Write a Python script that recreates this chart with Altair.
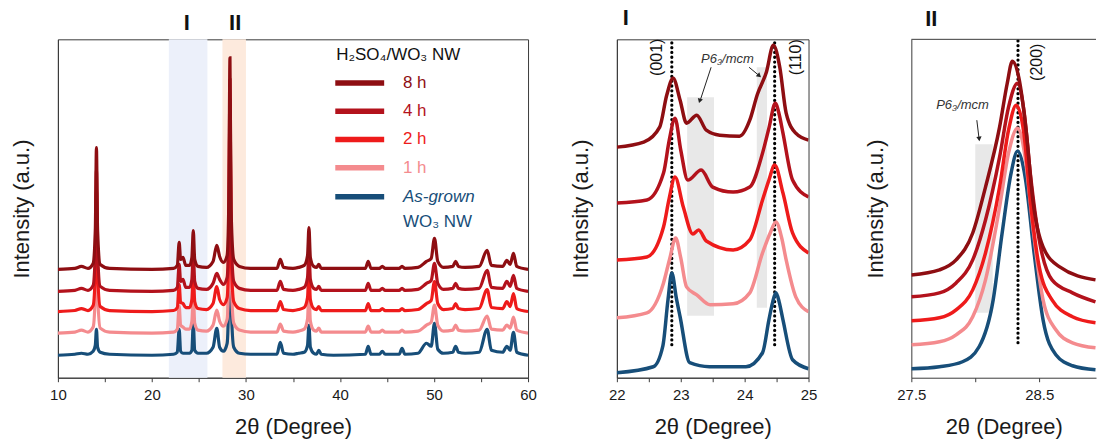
import altair as alt
import pandas as pd

FONT = "Liberation Sans"
SERIES = ["As-grown", "1 h", "2 h", "4 h", "8 h"]  # drawing order (bottom first)
COLORS = {"8 h": "#8E0E12", "4 h": "#B3121C", "2 h": "#EE1B1B", "1 h": "#F48B8E", "As-grown": "#174E79"}

# ---------------- Panel 1 (full pattern) ----------------
X1 = [10.0, 11.8, 12.5, 13.2, 13.75, 13.98, 14.1, 14.22, 14.5, 15.5,
      20.0, 22.3, 22.7, 22.9, 23.05, 23.3, 23.6, 24.0, 24.25, 24.4,
      24.55, 24.9, 25.8, 26.5, 26.9, 27.2, 27.6, 28.0, 28.18, 28.3,
      28.42, 28.7, 29.3, 30.5, 33.3, 33.65, 34.0, 35.0, 35.6, 36.2,
      36.55, 36.7, 36.85, 37.2, 37.5, 37.75, 38.0, 39.3, 42.7, 43.0,
      43.3, 44.2, 44.5, 44.8, 46.3, 46.6, 46.9, 48.3, 49.2, 49.7,
      50.05, 50.4, 51.0, 52.0, 52.3, 52.6, 53.3, 54.8, 55.65, 56.1,
      57.3, 57.75, 58.1, 58.45, 58.8, 60.0]
OFFSET1 = {"8 h": 108.5, "4 h": 86.5, "2 h": 66.3, "1 h": 44.7, "As-grown": 22.5}
PROFILE_8H = [0, 1, 3, 1, 6, 40, 122, 40, 5, 1,
              0, 1, 4, 27, 10, 12, 4, 4, 12, 39,
              10, 3, 2, 8, 24, 13, 7, 14, 70, 212,
              60, 10, 3, 1, 1, 10, 2, 1, 2, 4,
              14, 42, 12, 3, 2, 5, 1, 1, 1, 8,
              1, 1, 3, 1, 1, 3, 1, 2, 8, 11,
              31, 8, 2, 3, 8, 3, 2, 3, 19, 4,
              3, 9, 5, 16, 3, 0]
PROFILE_4H = [0, 1, 3, 1, 6, 40, 122, 40, 5, 1,
              0, 1, 4, 27, 10, 12, 4, 4, 12, 39,
              10, 3, 2, 8, 18, 12, 7, 14, 70, 212,
              60, 10, 3, 1, 1, 10, 2, 1, 2, 4,
              14, 42, 12, 3, 2, 5, 1, 1, 1, 8,
              1, 1, 3, 1, 1, 3, 1, 2, 8, 11,
              28, 8, 2, 3, 8, 3, 2, 3, 21, 4,
              3, 10, 5, 16, 3, 0]
PROFILE_2H = [0, 1, 3, 1, 6, 40, 122, 40, 5, 1,
              0, 1, 4, 27, 9, 8, 4, 4, 12, 39,
              10, 3, 2, 8, 25, 12, 7, 14, 70, 212,
              60, 10, 3, 1, 1, 10, 2, 1, 2, 4,
              14, 42, 12, 3, 2, 5, 1, 1, 1, 8,
              1, 1, 3, 1, 1, 3, 1, 2, 8, 11,
              30, 8, 2, 3, 8, 3, 2, 3, 22, 4,
              3, 10, 5, 18, 3, 0]
PROFILE_1H = [0, 1, 3, 1, 6, 40, 122, 40, 5, 1,
              0, 1, 4, 27, 8, 6, 4, 4, 12, 39,
              10, 3, 2, 8, 23, 12, 7, 14, 70, 212,
              60, 10, 3, 1, 1, 9, 2, 1, 2, 4,
              14, 42, 12, 3, 2, 5, 1, 1, 1, 7,
              1, 1, 3, 1, 1, 3, 1, 2, 8, 11,
              28, 8, 2, 3, 8, 3, 2, 3, 17, 4,
              3, 8, 5, 16, 3, 0]
PROFILE_AG = [0, 1, 2, 1, 4, 10, 26, 8, 3, 1,
              0, 1, 3, 26, 4, 2, 2, 2, 5, 32,
              5, 2, 2, 8, 27, 8, 4, 12, 70, 212,
              55, 8, 2, 1, 1, 13, 2, 1, 2, 3,
              10, 30, 8, 2, 1, 5, 1, 0, 1, 9,
              1, 1, 4, 1, 1, 7, 1, 2, 12, 9,
              32, 6, 2, 3, 9, 3, 2, 3, 26, 5,
              3, 9, 5, 23, 3, 0]
PROFILES1 = {"8 h": PROFILE_8H, "4 h": PROFILE_4H, "2 h": PROFILE_2H,
             "1 h": PROFILE_1H, "As-grown": PROFILE_AG}

BAND_X1 = [21.8, 27.5]
BAND_X2 = [25.9, 30.0]
BAND_COLORS = ["#ECF0FA", "#FDEADD"]

# ---------------- Panel I (22-25) ----------------
P2 = {
    "8 h": ([22.0, 22.42, 22.67, 22.78, 22.88, 22.99, 23.09, 23.25, 23.4, 23.61, 23.92, 24.08, 24.2, 24.34, 24.45, 24.55, 24.65, 24.8, 25.0],
            [231, 236, 251, 283, 300, 278, 255, 263, 248, 243, 242, 258, 284, 306, 333, 311, 265, 245, 238]),
    "4 h": ([22.0, 22.47, 22.73, 22.82, 22.91, 23.0, 23.11, 23.32, 23.5, 23.82, 24.08, 24.28, 24.38, 24.48, 24.54, 24.6, 24.75, 25.0],
            [175, 178, 205, 238, 260, 228, 198, 208, 191, 186, 191, 225, 250, 275, 264, 245, 198, 181]),
    "2 h": ([22.0, 22.47, 22.73, 22.82, 22.91, 23.04, 23.19, 23.28, 23.4, 23.82, 24.08, 24.28, 24.38, 24.47, 24.6, 24.75, 25.0],
            [118, 121, 151, 180, 201, 171, 144, 148, 137, 128, 138, 178, 198, 213, 185, 145, 125]),
    "1 h": ([22.0, 22.47, 22.73, 22.83, 22.92, 23.0, 23.09, 23.25, 23.46, 23.82, 24.08, 24.28, 24.4, 24.49, 24.58, 24.65, 24.8, 25.0],
            [60, 65, 95, 120, 140, 120, 91, 83, 73, 74, 85, 125, 145, 156, 140, 118, 81, 66]),
    "As-grown": ([22.0, 22.57, 22.72, 22.8, 22.86, 22.93, 22.99, 23.14, 23.45, 24.02, 24.28, 24.38, 24.44, 24.49, 24.54, 24.6, 24.75, 25.0],
                 [5, 11, 32, 78, 105, 80, 61, 15, 11, 11, 25, 58, 76, 85, 76, 58, 18, 9]),
}

# ---------------- Panel II (27.5-29) ----------------
P3 = {
    "8 h": ([27.5, 27.72, 27.85, 27.98, 28.08, 28.19, 28.25, 28.29, 28.34, 28.4, 28.45, 28.53, 28.66, 28.94],
            [103, 108, 118, 145, 191, 251, 295, 317, 301, 245, 178, 131, 111, 98]),
    "4 h": ([27.5, 27.72, 27.85, 27.98, 28.08, 28.19, 28.26, 28.33, 28.38, 28.43, 28.5, 28.6, 28.76, 28.94],
            [81, 85, 95, 118, 158, 221, 271, 295, 268, 205, 138, 98, 85, 76]),
    "2 h": ([27.5, 27.72, 27.85, 27.98, 28.08, 28.19, 28.26, 28.32, 28.38, 28.43, 28.5, 28.6, 28.76, 28.94],
            [57, 60, 68, 88, 125, 191, 248, 273, 245, 178, 111, 78, 61, 55]),
    "1 h": ([27.5, 27.72, 27.85, 27.98, 28.08, 28.19, 28.26, 28.33, 28.39, 28.45, 28.53, 28.63, 28.76, 28.94],
            [33, 36, 43, 61, 98, 171, 225, 250, 221, 151, 78, 48, 35, 30]),
    "As-grown": ([27.5, 27.72, 27.9, 28.03, 28.14, 28.21, 28.28, 28.33, 28.39, 28.46, 28.53, 28.63, 28.76, 28.94],
                 [9, 11, 16, 31, 78, 145, 205, 227, 201, 125, 58, 23, 12, 8]),
}

# ---------------- shared styles ----------------
AXC = "#3a3a3a"
AX = dict(domainColor=AXC, tickColor=AXC, labelColor="#1a1a1a", titleColor="#1a1a1a",
          labelFont=FONT, titleFont=FONT, labelFontSize=15, titleFontSize=22,
          titleFontWeight="normal", grid=False, labelFlush=False)
YAX = alt.Axis(title="Intensity (a.u.)", ticks=False, labels=False, titlePadding=24, **AX)
YSC = alt.Scale(domain=[0, 339], nice=False, zero=False)


def series_layers(data_dict, xenc, yenc, width):
    out = []
    for s in SERIES:
        xs, ys = data_dict[s]
        df = pd.DataFrame({"x": xs, "y": ys})
        out.append(alt.Chart(df).mark_line(color=COLORS[s], strokeWidth=width,
                                           interpolate="monotone", clip=True)
                   .encode(x=xenc, y=yenc))
    return out


# ===== Panel 1 =====
XA1 = alt.Axis(values=list(range(10, 61, 5)), labelExpr="datum.value % 10 == 0 ? format(datum.value, 'd') : ''",
               title="2θ (Degree)", tickSize=4, labelPadding=6, titlePadding=14, **AX)
XS1 = alt.Scale(domain=[10, 60], nice=False, zero=False)
X1E = alt.X("x:Q", scale=XS1, axis=XA1)
Y1E = alt.Y("y:Q", scale=YSC, axis=YAX)

bands = alt.Chart(pd.DataFrame({"x": BAND_X1, "x2": BAND_X2, "c": BAND_COLORS})).mark_rect().encode(
    x=X1E, x2="x2:Q", color=alt.Color("c:N", scale=None))

p1_data = {s: (X1, [OFFSET1[s] + v for v in PROFILES1[s]]) for s in SERIES}
p1_lines = series_layers(p1_data, X1E, Y1E, 3.2)

roman1 = alt.Chart(pd.DataFrame({"x": [23.7, 28.85], "y": [355, 355], "t": ["I", "II"]})).mark_text(
    font=FONT, fontSize=22, fontWeight="bold", color="#111").encode(x=X1E, y=Y1E, text="t:N")

LEG_NAMES = ["8 h", "4 h", "2 h", "1 h", "As-grown"]
LEG_Y = [295.3, 267, 238.7, 210.3, 181.3]
leg_df = pd.DataFrame({"x": [39.5] * 5, "x2": [44.7] * 5, "y": LEG_Y,
                       "c": [COLORS[n] for n in LEG_NAMES]})
leg_lines = alt.Chart(leg_df).mark_rule(strokeWidth=5.5).encode(
    x=X1E, x2="x2:Q", y=Y1E, color=alt.Color("c:N", scale=None))
lab_df = pd.DataFrame({"x": [46.7] * 4, "y": LEG_Y[:4], "t": LEG_NAMES[:4],
                       "c": [COLORS[n] for n in LEG_NAMES[:4]]})
leg_labels = alt.Chart(lab_df).mark_text(font=FONT, fontSize=17, align="left", baseline="middle").encode(
    x=X1E, y=Y1E, text="t:N", color=alt.Color("c:N", scale=None))
leg_ag = alt.Chart(pd.DataFrame({"x": [46.7], "y": [LEG_Y[4]], "t": ["As-grown"]})).mark_text(
    font=FONT, fontSize=17, fontStyle="italic", align="left", baseline="middle", color=COLORS["As-grown"]).encode(
    x=X1E, y=Y1E, text="t:N")
leg_ag2 = alt.Chart(pd.DataFrame({"x": [46.7], "y": [156.3], "t": ["WO₃ NW"]})).mark_text(
    font=FONT, fontSize=17, align="left", baseline="middle", color=COLORS["As-grown"]).encode(
    x=X1E, y=Y1E, text="t:N")
leg_title = alt.Chart(pd.DataFrame({"x": [39.6], "y": [323], "t": ["H₂SO₄/WO₃ NW"]})).mark_text(
    font=FONT, fontSize=17, align="left", baseline="middle", color="#111").encode(
    x=X1E, y=Y1E, text="t:N")

p1 = alt.layer(bands, *p1_lines, roman1, leg_lines, leg_labels, leg_ag, leg_ag2, leg_title).properties(
    width=471, height=339)

# ===== Panel 2 =====
XA2 = alt.Axis(values=[22, 22.5, 23, 23.5, 24, 24.5, 25],
               labelExpr="datum.value % 1 == 0 ? format(datum.value, 'd') : ''",
               title="2θ  (Degree)", tickSize=4, labelPadding=6, titlePadding=14, **AX)
XS2 = alt.Scale(domain=[22, 25], nice=False, zero=False)
X2E = alt.X("x:Q", scale=XS2, axis=XA2)
Y2E = alt.Y("y:Q", scale=YSC, axis=YAX)

gray2 = alt.Chart(pd.DataFrame({"x": [23.1, 24.19], "x2": [23.52, 24.35], "y": [62, 70], "y2": [281, 311]})).mark_rect(
    color="#E8E8E8").encode(x=X2E, x2="x2:Q", y=Y2E, y2="y2:Q")
dots2 = alt.Chart(pd.DataFrame({"x": [22.86, 24.47], "y": [33, 33], "y2": [336, 336]})).mark_rule(
    color="black", strokeWidth=3.2, strokeDash=[0.1, 4.7], strokeCap="round").encode(x=X2E, y=Y2E, y2="y2:Q")
p2_lines = series_layers(P2, X2E, Y2E, 3.5)
hkl2 = alt.Chart(pd.DataFrame({"x": [22.63, 24.8], "y": [321, 321], "t": ["(001)", "(110)"]})).mark_text(
    font=FONT, fontSize=16, angle=270, align="center", baseline="middle", color="#111").encode(
    x=X2E, y=Y2E, text="t:N")
sg2 = alt.Chart(pd.DataFrame({"x": [23.73], "y": [319.5], "t": ["P6₃/mcm"]})).mark_text(
    font=FONT, fontSize=13, fontStyle="italic", color="#333").encode(x=X2E, y=Y2E, text="t:N")
arr2 = alt.Chart(pd.DataFrame({"x": [23.475, 24.07], "y": [311, 311], "x2": [23.30, 24.22], "y2": [277, 303]})).mark_rule(
    color="#222", strokeWidth=1).encode(x=X2E, y=Y2E, x2="x2:Q", y2="y2:Q")
head2 = alt.Chart(pd.DataFrame({"x": [23.30, 24.22], "y": [278, 303], "a": [198, 132]})).mark_point(
    shape="triangle", filled=True, size=28, color="#222", opacity=1).encode(
    x=X2E, y=Y2E, angle=alt.Angle("a:Q", scale=None))
title2 = alt.Chart(pd.DataFrame({"x": [22.14], "y": [360], "t": ["I"]})).mark_text(
    font=FONT, fontSize=22, fontWeight="bold", color="#111").encode(x=X2E, y=Y2E, text="t:N")

p2 = alt.layer(gray2, dots2, *p2_lines, hkl2, sg2, arr2, head2, title2).properties(width=192, height=339)

# ===== Panel 3 =====
XA3 = alt.Axis(values=[27.5, 28.0, 28.5], labelExpr="datum.value == 28 ? '' : format(datum.value, '.1f')",
               title="2θ  (Degree)", tickSize=4, labelPadding=6, titlePadding=14, **AX)
XS3 = alt.Scale(domain=[27.5, 28.944], nice=False, zero=False)
X3E = alt.X("x:Q", scale=XS3, axis=XA3)
Y3E = alt.Y("y:Q", scale=YSC, axis=YAX)

gray3 = alt.Chart(pd.DataFrame({"x": [28.0], "x2": [28.136], "y": [65], "y2": [234]})).mark_rect(
    color="#E8E8E8").encode(x=X3E, x2="x2:Q", y=Y3E, y2="y2:Q")
dots3 = alt.Chart(pd.DataFrame({"x": [28.334], "y": [35], "y2": [338]})).mark_rule(
    color="black", strokeWidth=3.2, strokeDash=[0.1, 4.7], strokeCap="round").encode(x=X3E, y=Y3E, y2="y2:Q")
p3_lines = series_layers(P3, X3E, Y3E, 3.5)
hkl3 = alt.Chart(pd.DataFrame({"x": [28.48], "y": [316], "t": ["(200)"]})).mark_text(
    font=FONT, fontSize=16, angle=270, align="center", baseline="middle", color="#111").encode(
    x=X3E, y=Y3E, text="t:N")
sg3 = alt.Chart(pd.DataFrame({"x": [27.9], "y": [273], "t": ["P6₃/mcm"]})).mark_text(
    font=FONT, fontSize=13, fontStyle="italic", color="#333").encode(x=X3E, y=Y3E, text="t:N")
arr3 = alt.Chart(pd.DataFrame({"x": [28.012], "y": [258], "x2": [28.03], "y2": [239]})).mark_rule(
    color="#222", strokeWidth=1).encode(x=X3E, y=Y3E, x2="x2:Q", y2="y2:Q")
head3 = alt.Chart(pd.DataFrame({"x": [28.03], "y": [240], "a": [174]})).mark_point(
    shape="triangle", filled=True, size=28, color="#222", opacity=1).encode(
    x=X3E, y=Y3E, angle=alt.Angle("a:Q", scale=None))
top3 = alt.Chart(pd.DataFrame({"x": [27.5], "x2": [28.944], "y": [339]})).mark_rule(
    color=AXC, strokeWidth=1).encode(x=X3E, x2="x2:Q", y=Y3E)
title3 = alt.Chart(pd.DataFrame({"x": [27.656], "y": [359], "t": ["II"]})).mark_text(
    font=FONT, fontSize=22, fontWeight="bold", color="#111").encode(x=X3E, y=Y3E, text="t:N")

p3 = alt.layer(gray3, dots3, *p3_lines, hkl3, sg3, arr3, head3, top3, title3).properties(
    width=185, height=339, view=alt.ViewBackground(stroke="transparent"))


def spacer(w):
    return alt.Chart(pd.DataFrame({"x": [0]})).mark_point(opacity=0).encode(
        x=alt.X("x:Q", axis=None), y=alt.Y("x:Q", axis=None)
    ).properties(width=w, height=339, view=alt.ViewBackground(stroke="transparent"))


chart = alt.hconcat(p1, spacer(89), p2, spacer(103), p3, spacing=0, bounds="flush").properties(
    padding={"left": 10, "top": 6, "right": 0, "bottom": 0}
).configure(font=FONT, background="white").configure_view(stroke=AXC, strokeWidth=1)

chart.save("out.html", embed_options={"renderer": "svg", "actions": False})
